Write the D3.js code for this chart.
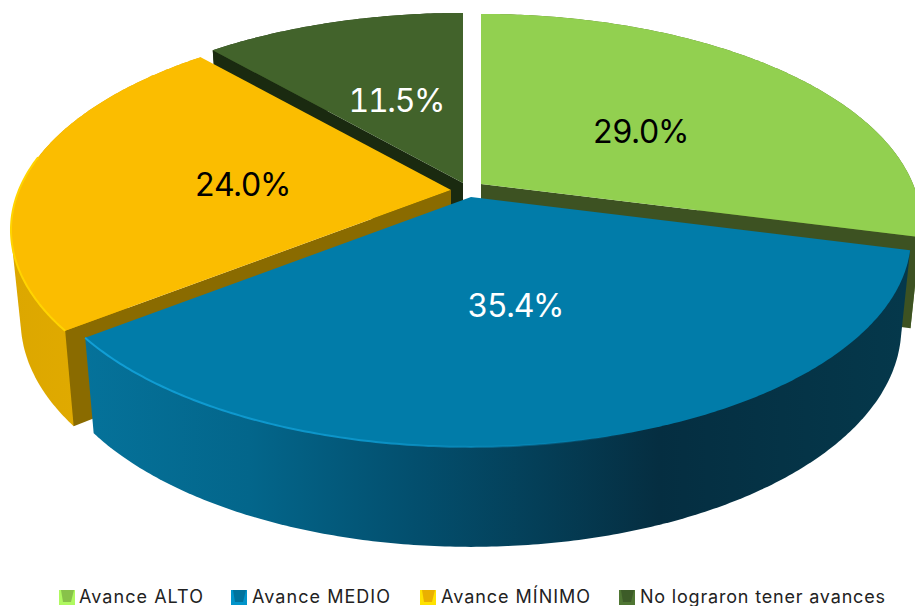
<!DOCTYPE html>
<html>
<head>
<meta charset="utf-8">
<script src="https://cdn.jsdelivr.net/npm/d3@7.9.0/dist/d3.min.js"></script>
<style>
  html, body { margin: 0; padding: 0; background: #fff; overflow: hidden; }
  svg { display: block; font-family: Inter, "Open Sans", sans-serif; }
  .pct { font-variant-numeric: tabular-nums; }
</style>
</head>
<body>
<svg id="chart" width="915" height="606"></svg>
<script>
const categories = ['Avance ALTO', 'Avance MEDIO', 'Avance MÍNIMO', 'No lograron tener avances'];
const shares = [29.0, 35.4, 24.0, 11.5];
const percentLabels = ['29.0%', '35.4%', '24.0%', '11.5%'];

// look of each slice, same order as categories
const topColors = ['#92d050', '#017ca9', '#fbbd00', '#42632b'];
const innerWallColors = ['#3d5222', '#015a7d', '#8a6b00', '#1a2a10'];
const outerWallColors = ['#57762a', 'url(#blueWall)', 'url(#yellowWall)', '#2c421c'];
const labelColors = ['#000', '#fff', '#000', '#fff'];
const apexX = [481, 471, 451, 463];
const apexY = [184, 197, 190, 183];
const labelX = [641, 516, 243, 397];
const labelY = [131, 305, 184, 100];
const legendSwatchX = [60, 232, 421, 620];
const legendTextX = [79, 252, 441, 640];
const legendTextLen = [124, 138, 149, 245];

// fake 3d: perspective tilt of the pie plane
const radiusX = 432;
const radiusY = 202.4;
const tilt = 0.19;
const bottomShrink = 0.978;

const svg = d3.select('#chart');
const defs = svg.append('defs');

function addGradient(id, x1, x2, stops) {
  const g = defs.append('linearGradient')
    .attr('id', id)
    .attr('gradientUnits', 'userSpaceOnUse')
    .attr('x1', x1).attr('x2', x2).attr('y1', 0).attr('y2', 0);
  stops.forEach(([o, c, a]) => {
    g.append('stop').attr('offset', o).attr('stop-color', c).attr('stop-opacity', a === undefined ? 1 : a);
  });
}

addGradient('blueWall', 85, 905, [
  [0, '#05729a'], [0.2, '#03668b'], [0.4, '#034f6e'], [0.55, '#043f58'], [0.7, '#052e41'], [1, '#05384b']
]);
addGradient('yellowWall', 10, 80, [[0, '#dca700'], [1, '#e0aa00']]);
addGradient('blueRim', 85, 640, [[0, '#119fd6'], [0.5, '#0c94c8'], [1, '#0c94c8', 0]]);

// slice angles start at 12 o'clock and run clockwise
const pie = d3.pie().sort(null).value((d) => d);
const arcs = pie(shares);
const line = d3.line();

function rimPoint(angle, i, low) {
  const u = Math.sin(angle);
  const v = -Math.cos(angle);
  const s = 1 / (1 - tilt * v);
  const x = radiusX * u * s;
  const y = radiusY * v * s;
  if (!low) return [apexX[i] + x, apexY[i] + y];
  return [apexX[i] + x * bottomShrink, apexY[i] + y + 88 + 12 * v];
}

function rim(d, i, low) {
  const n = Math.ceil((d.endAngle - d.startAngle) / 0.01);
  return d3.range(n + 1).map((k) => {
    return rimPoint(d.startAngle + (d.endAngle - d.startAngle) * k / n, i, low);
  });
}

// a radial wall only shows when the slice top lies above that edge
function wallFaces(apex, edge, mid) {
  const ex = edge[0] - apex[0];
  const ey = edge[1] - apex[1];
  const mx = mid[0] - apex[0];
  const my = mid[1] - apex[1];
  return (ex * my - ey * mx) * ex < 0;
}

// back to front so the nearer slices cover the walls behind them
const drawOrder = [3, 0, 2, 1];
const slices = svg.append('g');

drawOrder.forEach((i) => {
  const d = arcs[i];
  const g = slices.append('g').attr('class', 'slice');
  const apex = [apexX[i], apexY[i]];
  const apexLow = [apexX[i], apexY[i] + 88];
  const top = rim(d, i, false);
  const low = rim(d, i, true);
  const mid = top[Math.floor(top.length / 2)];

  // hull gives the straight silhouette between the top and bottom rims
  g.append('path')
    .attr('d', line(d3.polygonHull(top.concat(low))) + 'Z')
    .attr('fill', outerWallColors[i]);

  [0, top.length - 1].forEach((k) => {
    if (!wallFaces(apex, top[k], mid)) return;
    g.append('path')
      .attr('d', line([apex, top[k], low[k], apexLow]) + 'Z')
      .attr('fill', innerWallColors[i]);
  });

  g.append('path')
    .attr('d', line([apex].concat(top)) + 'Z')
    .attr('fill', topColors[i]);
});

// lighter bevel along the front rim
const blueTop = rim(arcs[1], 1, false);
slices.append('path')
  .attr('d', line(blueTop))
  .attr('fill', 'none')
  .attr('stroke', 'url(#blueRim)')
  .attr('stroke-width', 2);

const yellowTop = rim(arcs[2], 2, false);
slices.append('path')
  .attr('d', line(yellowTop.slice(0, Math.round(yellowTop.length * 0.55))))
  .attr('fill', 'none')
  .attr('stroke', '#ffd400')
  .attr('stroke-width', 2);

svg.append('g').selectAll('text')
  .data(percentLabels)
  .enter()
  .append('text')
  .attr('class', 'pct')
  .attr('x', (d, i) => labelX[i])
  .attr('y', (d, i) => labelY[i])
  .attr('dy', '0.36em')
  .attr('text-anchor', 'middle')
  .attr('font-size', 32)
  .attr('textLength', 97)
  .attr('fill', (d, i) => labelColors[i])
  .text((d) => d);

const legend = svg.append('g').selectAll('g')
  .data(categories)
  .enter()
  .append('g');

legend.append('rect')
  .attr('x', (d, i) => legendSwatchX[i] - 1)
  .attr('y', 590)
  .attr('width', 16)
  .attr('height', 15)
  .attr('fill', (d, i) => d3.color(topColors[i]).brighter(0.5));

legend.append('path')
  .attr('d', (d, i) => {
    const x = legendSwatchX[i];
    return line([[x + 1, 590], [x + 14, 590], [x + 11, 602], [x + 3, 602]]) + 'Z';
  })
  .attr('fill', (d, i) => d3.color(topColors[i]).darker(0.2));

legend.append('text')
  .attr('x', (d, i) => legendTextX[i])
  .attr('y', 603)
  .attr('font-size', 18)
  .attr('textLength', (d, i) => legendTextLen[i])
  .attr('fill', '#222')
  .text((d) => d);
</script>
</body>
</html>
